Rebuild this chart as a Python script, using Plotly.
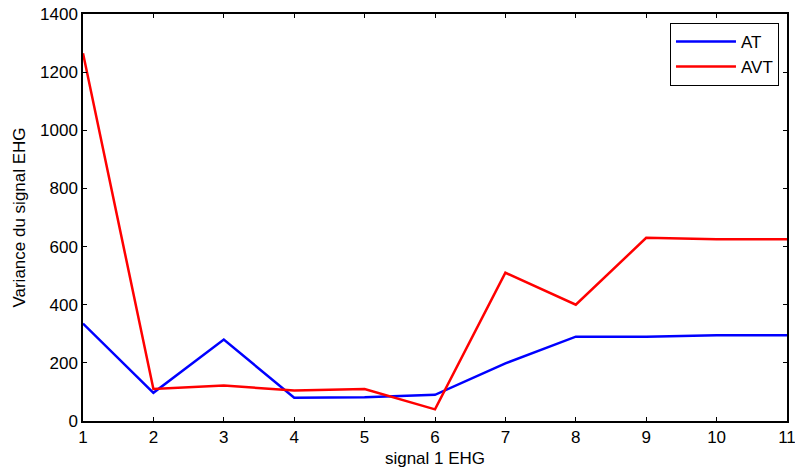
import plotly.graph_objects as go

signal = [1, 2, 3, 4, 5, 6, 7, 8, 9, 10, 11]
at_values = [335, 97, 280, 80, 82, 90, 198, 290, 290, 295, 295]
avt_values = [1265, 110, 122, 105, 110, 40, 510, 400, 630, 625, 625]
y_ticks = [0, 200, 400, 600, 800, 1000, 1200, 1400]

font = dict(family="Liberation Sans, Arial", size=17, color="black")

fig = go.Figure()
fig.add_trace(go.Scatter(x=signal, y=at_values, mode="lines", name="AT",
                         line=dict(color="#0000ff", width=2.5)))
fig.add_trace(go.Scatter(x=signal, y=avt_values, mode="lines", name="AVT",
                         line=dict(color="#ff0000", width=2.5)))

axis_common = dict(showline=True, linecolor="black", linewidth=1.5, mirror="ticks",
                   ticks="inside", ticklen=4, tickcolor="black", tickwidth=1,
                   showgrid=False, zeroline=False, tickfont=font, automargin=False,
                   ticklabeloverflow="allow")

fig.update_xaxes(range=[1, 11], tickvals=signal, title=dict(text="signal 1 EHG", font=font, standoff=6),
                 **axis_common)
fig.update_yaxes(range=[0, 1400], tickvals=y_ticks, title=dict(text="Variance du signal EHG", font=font, standoff=10),
                 **axis_common)

fig.update_layout(
    width=795, height=474,
    margin=dict(l=83, r=8, t=14, b=53),
    paper_bgcolor="white", plot_bgcolor="white",
    font=font,
    showlegend=True,
    legend=dict(x=0.9886, y=0.978, xanchor="right", yanchor="top",
                bordercolor="black", borderwidth=1, bgcolor="white",
                font=font, tracegroupgap=0, itemwidth=60),
)

fig.write_html("out.html", config={"displayModeBar": False},
               post_script="document.body.style.margin='0';document.body.style.overflow='hidden';")
